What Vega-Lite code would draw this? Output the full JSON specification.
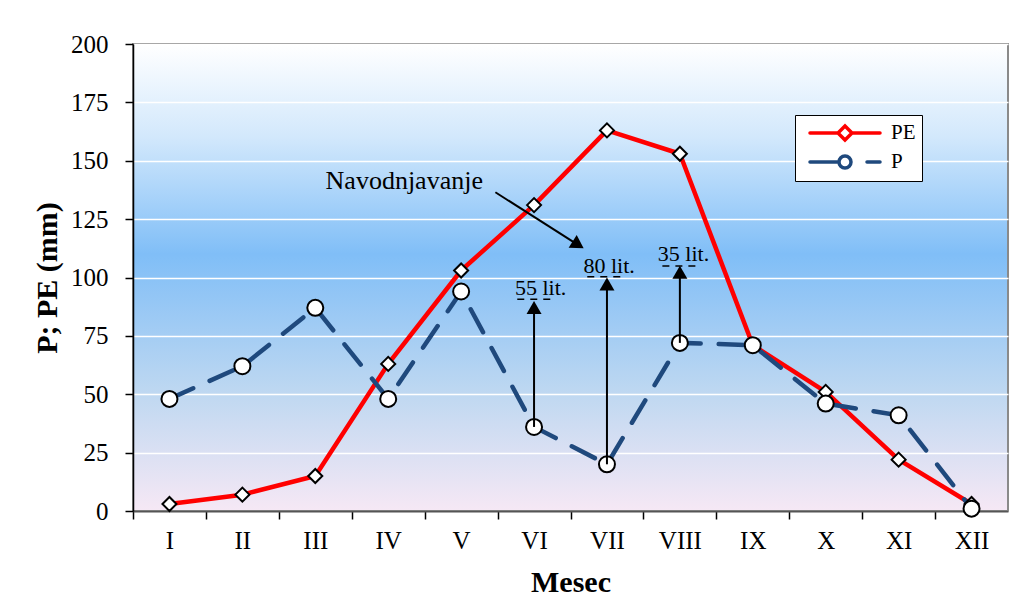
{
  "$schema": "https://vega.github.io/schema/vega-lite/v6.json",
  "width": 875,
  "height": 467,
  "autosize": {"type": "none"},
  "padding": {"left": 133, "top": 44, "right": 9, "bottom": 97},
  "background": "white",
  "config": {
    "font": "Liberation Serif",
    "view": {
      "fill": {"gradient": "linear", "x1": 0, "y1": 0, "x2": 0, "y2": 1,
        "stops": [
          {"offset": 0, "color": "#FFFFFF"},
          {"offset": 0.2, "color": "#D2E8FC"},
          {"offset": 0.45, "color": "#80BEF7"},
          {"offset": 0.75, "color": "#BFD8F1"},
          {"offset": 1, "color": "#F6E8F5"}
        ]},
      "stroke": "#8A8A8A",
      "strokeWidth": 2
    },
    "axis": {
      "labelFont": "Liberation Serif", "titleFont": "Liberation Serif",
      "labelColor": "black", "titleColor": "black",
      "labelFontSize": 25, "titleFontSize": 30, "titleFontWeight": "bold"
    },
    "legend": {"labelFont": "Liberation Serif"},
    "text": {"font": "Liberation Serif", "color": "black"}
  },
  "datasets": {
    "series": [
      {"m": 1, "s": "PE", "v": 3}, {"m": 2, "s": "PE", "v": 7}, {"m": 3, "s": "PE", "v": 15},
      {"m": 4, "s": "PE", "v": 63}, {"m": 5, "s": "PE", "v": 103}, {"m": 6, "s": "PE", "v": 131},
      {"m": 7, "s": "PE", "v": 163}, {"m": 8, "s": "PE", "v": 153}, {"m": 9, "s": "PE", "v": 71},
      {"m": 10, "s": "PE", "v": 51}, {"m": 11, "s": "PE", "v": 22}, {"m": 12, "s": "PE", "v": 3},
      {"m": 1, "s": "P", "v": 48}, {"m": 2, "s": "P", "v": 62}, {"m": 3, "s": "P", "v": 87},
      {"m": 4, "s": "P", "v": 48}, {"m": 5, "s": "P", "v": 94}, {"m": 6, "s": "P", "v": 36},
      {"m": 7, "s": "P", "v": 20}, {"m": 8, "s": "P", "v": 72}, {"m": 9, "s": "P", "v": 71},
      {"m": 10, "s": "P", "v": 46}, {"m": 11, "s": "P", "v": 41}, {"m": 12, "s": "P", "v": 1}
    ],
    "arrows": [
      {"m": 6, "from": 36, "to": 87.2},
      {"m": 7, "from": 20, "to": 97.2},
      {"m": 8, "from": 72, "to": 102.2}
    ],
    "under": [
      {"m": 5.77, "m2": 6.26, "v": 90.7},
      {"m": 6.73, "m2": 7.23, "v": 100.3},
      {"m": 7.76, "m2": 8.24, "v": 104.9}
    ],
    "labels": [
      {"m": 6.09, "v": 92.4, "t": "55 lit."},
      {"m": 7.03, "v": 101.8, "t": "80 lit."},
      {"m": 8.05, "v": 107, "t": "35 lit."}
    ],
    "note": [{"m": 4.22, "v": 137.9, "t": "Navodnjavanje"}],
    "diag": [{"m": 5.47, "v": 136.5, "m2": 6.56, "v2": 114.8}],
    "diaghead": [{"m": 6.605, "v": 114.0}]
  },
  "layer": [
    {
      "data": {"name": "series"},
      "transform": [{"filter": "datum.s === 'PE'"}],
      "mark": {"type": "line", "strokeWidth": 4.5, "strokeCap": "round", "strokeJoin": "round"},
      "encoding": {
        "x": {"field": "m", "type": "quantitative", "title": "Mesec",
          "scale": {"domain": [0.5, 12.5], "nice": false, "zero": false},
          "axis": {
            "values": [1, 2, 3, 4, 5, 6, 7, 8, 9, 10, 11, 12, 13],
            "labelExpr": "['','I','II','III','IV','V','VI','VII','VIII','IX','X','XI','XII',''][datum.value]",
            "tickOffset": -36.458, "labelOffset": 36.458,
            "labelFlush": false, "labelOverlap": false, "labelBound": false,
            "grid": false, "tickSize": 8, "tickColor": "black", "tickWidth": 1.5,
            "domainColor": "#555555", "domainWidth": 2,
            "labelPadding": 9, "titlePadding": 14
          }},
        "y": {"field": "v", "type": "quantitative", "title": "P; PE (mm)",
          "scale": {"domain": [0, 200], "nice": false},
          "axis": {
            "values": [0, 25, 50, 75, 100, 125, 150, 175, 200],
            "grid": true, "gridColor": "white", "gridWidth": 1.5, "gridOpacity": 1,
            "tickSize": 8, "tickColor": "black", "tickWidth": 1.5,
            "domainColor": "black", "domainWidth": 1.5,
            "labelPadding": 17, "titlePadding": 8
          }},
        "color": {"field": "s", "type": "nominal",
          "scale": {"domain": ["PE", "P"], "range": ["#FF0000", "#1F497D"]},
          "legend": {
            "title": null, "orient": "none", "legendX": 662, "legendY": 71,
            "direction": "vertical", "fillColor": "white", "strokeColor": "black",
            "padding": 6, "labelFontSize": 21, "labelColor": "black",
            "symbolSize": 400, "symbolStrokeWidth": 3.5, "labelOffset": 66, "rowPadding": 2,
            "encode": {
              "symbols": {"update": {
                "shape": {"signal": "datum.value === 'PE' ? 'M-0.3,0H2.5M3.9,0H6.7M3.2,-0.7L3.9,0L3.2,0.7L2.5,0Z' : 'M-0.3,0H2.6M5.4,0H6.7M2.6,0A0.6,0.6 0 1,0 3.8,0A0.6,0.6 0 1,0 2.6,0Z'"},
                "fill": {"value": "white"},
                "fillOpacity": {"value": 1},
                "strokeCap": {"value": "round"}
              }}
            }
          }}
      }
    },
    {
      "data": {"name": "series"},
      "transform": [{"filter": "datum.s === 'P'"}],
      "mark": {"type": "line", "strokeWidth": 4.5, "strokeDash": [26, 18], "strokeCap": "round"},
      "encoding": {
        "x": {"field": "m", "type": "quantitative", "scale": {"domain": [0.5, 12.5], "nice": false, "zero": false}},
        "y": {"field": "v", "type": "quantitative", "scale": {"domain": [0, 200], "nice": false}},
        "color": {"field": "s", "type": "nominal", "scale": {"domain": ["PE", "P"], "range": ["#FF0000", "#1F497D"]}}
      }
    },
    {
      "data": {"name": "series"},
      "transform": [{"filter": "datum.s === 'PE'"}],
      "mark": {"type": "point", "shape": "diamond", "filled": true, "fill": "white", "stroke": "black", "strokeWidth": 2, "size": 196, "opacity": 1},
      "encoding": {
        "x": {"field": "m", "type": "quantitative", "scale": {"domain": [0.5, 12.5], "nice": false, "zero": false}},
        "y": {"field": "v", "type": "quantitative", "scale": {"domain": [0, 200], "nice": false}}
      }
    },
    {
      "data": {"name": "series"},
      "transform": [{"filter": "datum.s === 'P'"}],
      "mark": {"type": "point", "shape": "circle", "filled": true, "fill": "white", "stroke": "black", "strokeWidth": 2, "size": 256, "opacity": 1},
      "encoding": {
        "x": {"field": "m", "type": "quantitative", "scale": {"domain": [0.5, 12.5], "nice": false, "zero": false}},
        "y": {"field": "v", "type": "quantitative", "scale": {"domain": [0, 200], "nice": false}}
      }
    },
    {
      "data": {"name": "arrows"},
      "mark": {"type": "rule", "color": "black", "strokeWidth": 2},
      "encoding": {
        "x": {"field": "m", "type": "quantitative", "scale": {"domain": [0.5, 12.5], "nice": false, "zero": false}},
        "y": {"field": "from", "type": "quantitative", "scale": {"domain": [0, 200], "nice": false}},
        "y2": {"field": "to"}
      }
    },
    {
      "data": {"name": "arrows"},
      "mark": {"type": "point", "shape": "triangle-up", "filled": true, "color": "black", "size": 225, "opacity": 1},
      "encoding": {
        "x": {"field": "m", "type": "quantitative", "scale": {"domain": [0.5, 12.5], "nice": false, "zero": false}},
        "y": {"field": "to", "type": "quantitative", "scale": {"domain": [0, 200], "nice": false}}
      }
    },
    {
      "data": {"name": "under"},
      "mark": {"type": "rule", "color": "black", "strokeWidth": 1.5, "strokeDash": [7, 6]},
      "encoding": {
        "x": {"field": "m", "type": "quantitative", "scale": {"domain": [0.5, 12.5], "nice": false, "zero": false}},
        "x2": {"field": "m2"},
        "y": {"field": "v", "type": "quantitative", "scale": {"domain": [0, 200], "nice": false}}
      }
    },
    {
      "data": {"name": "labels"},
      "mark": {"type": "text", "fontSize": 22, "align": "center", "baseline": "alphabetic"},
      "encoding": {
        "x": {"field": "m", "type": "quantitative", "scale": {"domain": [0.5, 12.5], "nice": false, "zero": false}},
        "y": {"field": "v", "type": "quantitative", "scale": {"domain": [0, 200], "nice": false}},
        "text": {"field": "t"}
      }
    },
    {
      "data": {"name": "note"},
      "mark": {"type": "text", "fontSize": 26, "align": "center", "baseline": "alphabetic"},
      "encoding": {
        "x": {"field": "m", "type": "quantitative", "scale": {"domain": [0.5, 12.5], "nice": false, "zero": false}},
        "y": {"field": "v", "type": "quantitative", "scale": {"domain": [0, 200], "nice": false}},
        "text": {"field": "t"}
      }
    },
    {
      "data": {"name": "diag"},
      "mark": {"type": "rule", "color": "black", "strokeWidth": 2},
      "encoding": {
        "x": {"field": "m", "type": "quantitative", "scale": {"domain": [0.5, 12.5], "nice": false, "zero": false}},
        "x2": {"field": "m2"},
        "y": {"field": "v", "type": "quantitative", "scale": {"domain": [0, 200], "nice": false}},
        "y2": {"field": "v2"}
      }
    },
    {
      "data": {"name": "diaghead"},
      "mark": {"type": "point", "shape": "triangle-up", "filled": true, "color": "black", "size": 225, "opacity": 1, "angle": 122.4},
      "encoding": {
        "x": {"field": "m", "type": "quantitative", "scale": {"domain": [0.5, 12.5], "nice": false, "zero": false}},
        "y": {"field": "v", "type": "quantitative", "scale": {"domain": [0, 200], "nice": false}}
      }
    }
  ]
}
